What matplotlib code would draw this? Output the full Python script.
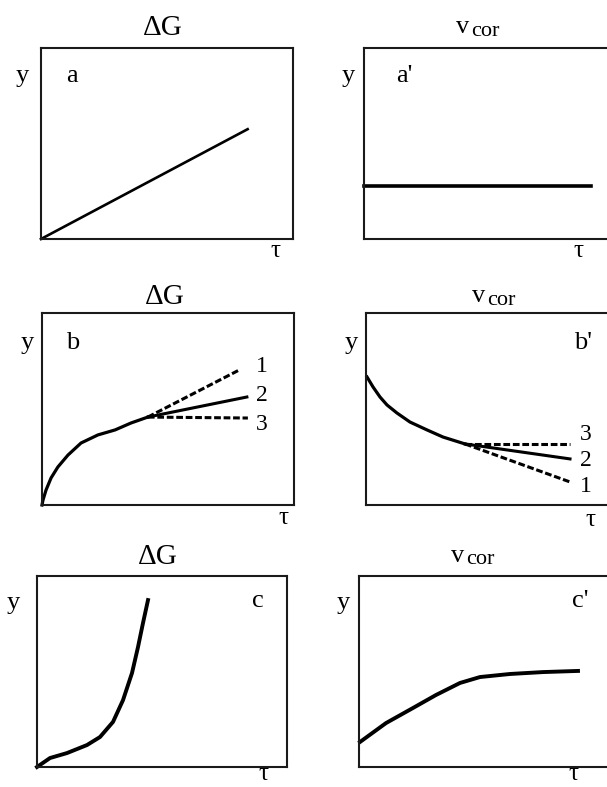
import matplotlib.pyplot as plt

plt.rcParams['font.family'] = ['Liberation Serif', 'DejaVu Serif']

W, H = 607, 787

# curve values, in units of each box (tau and y both run 0..1)
a_tau = [0.0, 0.82]
a_y = [0.0, 0.575]

a2_tau = [0.0, 0.908]
a2_y = [0.277, 0.277]

b_tau = [0.0, 0.004, 0.016, 0.036, 0.063, 0.103, 0.155, 0.222, 0.29, 0.353, 0.42]
b_y = [0.0, 0.026, 0.078, 0.141, 0.198, 0.26, 0.323, 0.365, 0.391, 0.427, 0.458]
b_end_tau = {'1': 0.778, '2': 0.813, '3': 0.817}
b_end_y = {'1': 0.70, '2': 0.5625, '3': 0.453}

b2_tau = [0.004, 0.028, 0.056, 0.084, 0.124, 0.176, 0.244, 0.308, 0.396]
b2_y = [0.667, 0.615, 0.5625, 0.521, 0.479, 0.432, 0.391, 0.354, 0.318]
b2_end_tau = {'1': 0.816, '2': 0.816, '3': 0.816}
b2_end_y = {'1': 0.12, '2': 0.24, '3': 0.318}

c_tau = [0.0, 0.052, 0.12, 0.2, 0.252, 0.304, 0.344, 0.38, 0.404, 0.424, 0.444]
c_y = [0.0, 0.047, 0.073, 0.115, 0.157, 0.236, 0.35, 0.492, 0.628, 0.754, 0.874]

c2_tau = [0.004, 0.108, 0.216, 0.308, 0.404, 0.484, 0.604, 0.736, 0.876]
c2_y = [0.131, 0.23, 0.309, 0.377, 0.44, 0.471, 0.487, 0.497, 0.503]

branch_styles = {'1': (0, (2.2, 0.9)), '2': '-', '3': (0, (2.2, 0.9))}

fig = plt.figure(figsize=(W / 100, H / 100), dpi=100)


def make_box(left, top, right, bottom, open_right=False):
    ax = fig.add_axes([left / W, 1 - bottom / H, (right - left) / W, (bottom - top) / H])
    ax.set_xlim(0, 1)
    ax.set_ylim(0, 1)
    ax.set_xticks([])
    ax.set_yticks([])
    for s in ax.spines.values():
        s.set_linewidth(1.5)
        s.set_color('#1a1a1a')
    if open_right:
        ax.spines['right'].set_visible(False)
    return ax


def label(x, y, s, size=19, **kw):
    fig.text(x / W, 1 - y / H, s, fontsize=size, ha='center', va='center', **kw)


def vcor(x, y):
    label(x - 15, y - 1, 'v', size=19)
    label(x + 7, y + 3, 'cor', size=16)


# row a
ax = make_box(41, 48, 293, 239)
ax.plot(a_tau, a_y, color='black', lw=1.9, clip_on=False)
label(163, 28, 'ΔG', size=21)
label(22, 76, 'y')
label(72, 76, 'a')
label(275, 251, 'τ', size=18)

ax = make_box(364, 48, 614, 239, open_right=True)
ax.plot(a2_tau, a2_y, color='black', lw=2.6, clip_on=False)
vcor(478, 28)
label(348, 76, 'y')
label(404, 76, "a'")
label(578, 251, 'τ', size=18)

# row b
ax = make_box(42, 313, 294, 505)
ax.plot(b_tau, b_y, color='black', lw=2.3, clip_on=False)
for k, ly in zip(['1', '2', '3'], [0.72, 0.568, 0.42]):
    ax.plot([b_tau[-1], b_end_tau[k]], [b_y[-1], b_end_y[k]], color='black',
            lw=2.2, linestyle=branch_styles[k])
    ax.text(0.873, ly, k, fontsize=17, ha='center', va='center')
label(165, 297, 'ΔG', size=21)
label(27, 343, 'y')
label(73, 343, 'b')
label(283, 518, 'τ', size=18)

ax = make_box(366, 313, 616, 505, open_right=True)
ax.plot(b2_tau, b2_y, color='black', lw=2.3, clip_on=False)
for k, ly in zip(['1', '2', '3'], [0.094, 0.234, 0.365]):
    ax.plot([b2_tau[-1], b2_end_tau[k]], [b2_y[-1], b2_end_y[k]], color='black',
            lw=2.2, linestyle=branch_styles[k])
    ax.text(0.88, ly, k, fontsize=17, ha='center', va='center')
vcor(494, 297)
label(351, 343, 'y')
label(583, 343, "b'")
label(590, 520, 'τ', size=18)

# row c
ax = make_box(37, 576, 287, 767)
ax.plot(c_tau, c_y, color='black', lw=2.8, clip_on=False)
label(158, 557, 'ΔG', size=21)
label(13, 603, 'y')
label(258, 601, 'c')
label(263, 774, 'τ', size=18)

ax = make_box(359, 576, 609, 767, open_right=True)
ax.plot(c2_tau, c2_y, color='black', lw=2.8, clip_on=False)
vcor(473, 557)
label(343, 603, 'y')
label(580, 601, "c'")
label(573, 774, 'τ', size=18)

fig.savefig('out.png', dpi=100, facecolor='white')
